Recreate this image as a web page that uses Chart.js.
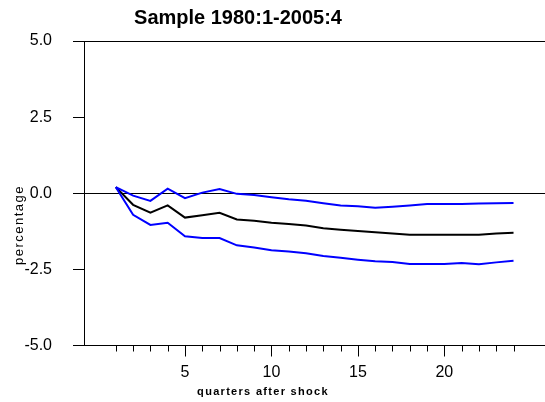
<!DOCTYPE html>
<html>
<head>
<meta charset="utf-8">
<script src="https://cdn.jsdelivr.net/npm/chart.js@4"></script>
<style>
  html, body { margin: 0; padding: 0; background: #fff; }
  #wrap { width: 545px; height: 402px; }
</style>
</head>
<body>
<div id="wrap"><canvas id="grafico"></canvas></div>
<script>
// quarters after shock
const quarters = [1, 2, 3, 4, 5, 6, 7, 8, 9, 10, 11, 12, 13, 14, 15, 16, 17, 18, 19, 20, 21, 22, 23, 24];
// point estimate (black)
const estimate = [0.20, -0.38, -0.64, -0.40, -0.80, -0.72, -0.64, -0.86, -0.90, -0.97, -1.01, -1.06,
                  -1.15, -1.20, -1.24, -1.28, -1.32, -1.36, -1.36, -1.36, -1.36, -1.36, -1.32, -1.30];
// upper band (blue)
const upper = [0.20, -0.08, -0.25, 0.15, -0.16, 0.02, 0.14, -0.02, -0.06, -0.13, -0.20, -0.25,
               -0.33, -0.40, -0.43, -0.48, -0.44, -0.40, -0.35, -0.35, -0.35, -0.34, -0.33, -0.32];
// lower band (blue)
const lower = [0.20, -0.71, -1.04, -0.97, -1.41, -1.47, -1.47, -1.71, -1.78, -1.87, -1.91, -1.97,
               -2.06, -2.12, -2.18, -2.23, -2.26, -2.32, -2.32, -2.32, -2.29, -2.33, -2.27, -2.22];

const yTicks = [-5, -2.5, 0, 2.5, 5];
const xLabelTicks = [5, 10, 15, 20];

const fonte = "'Liberation Sans', Arial, sans-serif";

function pontos(valores) {
    return quarters.map((q, i) => ({ x: q, y: valores[i] }));
}

// tick marks below the axis and the free-standing texts
const extras = {
    id: "extras",
    afterDraw(chart) {
        const ctx = chart.ctx;
        const x = chart.scales.x;
        const base = chart.chartArea.bottom;
        ctx.save();
        ctx.strokeStyle = "#000";
        ctx.lineWidth = 1;
        quarters.forEach(q => {
            const px = Math.round(x.getPixelForValue(q)) + 0.5;
            const len = q % 5 === 0 ? 11 : 6;
            ctx.beginPath();
            ctx.moveTo(px, base);
            ctx.lineTo(px, base + len);
            ctx.stroke();
        });

        ctx.fillStyle = "#000";
        ctx.textAlign = "center";
        ctx.textBaseline = "middle";

        ctx.font = "bold 20px " + fonte;
        ctx.fillText("Sample 1980:1-2005:4", 238, 18);

        ctx.font = "bold 11px " + fonte;
        ctx.letterSpacing = "1.3px";
        ctx.fillText("quarters after shock", 263, 392);

        ctx.font = "13px " + fonte;
        ctx.letterSpacing = "1.5px";
        ctx.translate(19, 225);
        ctx.rotate(-Math.PI / 2);
        ctx.fillText("percentage", 0, 0);
        ctx.restore();
    }
};

new Chart(document.getElementById("grafico"), {
    type: "line",
    data: {
        datasets: [
            { label: "upper", data: pontos(upper), borderColor: "#0000ff", borderWidth: 2, pointRadius: 0, tension: 0 },
            { label: "lower", data: pontos(lower), borderColor: "#0000ff", borderWidth: 2, pointRadius: 0, tension: 0 },
            { label: "estimate", data: pontos(estimate), borderColor: "#000000", borderWidth: 2, pointRadius: 0, tension: 0 }
        ]
    },
    options: {
        responsive: true,
        maintainAspectRatio: false,
        animation: false,
        layout: { padding: { top: 41, left: 0, right: 0, bottom: 0 } },
        plugins: {
            legend: { display: false },
            tooltip: { enabled: false },
            title: { display: false }
        },
        scales: {
            x: {
                type: "linear",
                min: -0.84,
                max: 25.82,
                afterBuildTicks: scale => { scale.ticks = xLabelTicks.map(v => ({ value: v })); },
                afterFit: scale => { scale.height = 56.5; },
                grid: { display: false, drawTicks: false },
                border: { display: false },
                ticks: {
                    autoSkip: false,
                    maxRotation: 0,
                    padding: 17,
                    color: "#000",
                    font: { family: fonte, size: 16 }
                }
            },
            y: {
                min: -5,
                max: 5,
                afterBuildTicks: scale => { scale.ticks = yTicks.map(v => ({ value: v })); },
                afterFit: scale => { scale.width = 84; },
                grid: {
                    color: c => (c.tick && c.tick.value % 5 === 0) ? "#000" : "rgba(0,0,0,0)",
                    tickColor: "#000",
                    lineWidth: 1,
                    tickLength: 11
                },
                border: { display: true, color: "#000", width: 1 },
                ticks: {
                    padding: 21,
                    color: "#000",
                    font: { family: fonte, size: 16 },
                    callback: v => v.toFixed(1)
                }
            }
        }
    },
    plugins: [extras]
});
</script>
</body>
</html>
